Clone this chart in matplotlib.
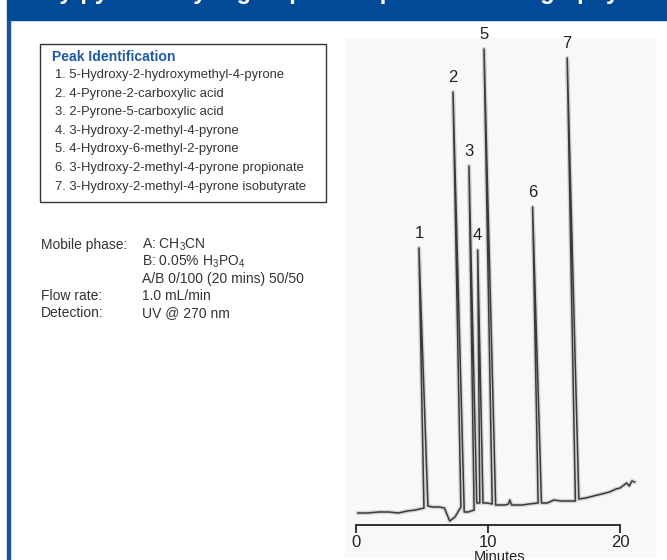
import matplotlib.pyplot as plt
from matplotlib.patches import Rectangle

plt.rcParams['font.family'] = ['Liberation Sans', 'DejaVu Sans']
plt.rcParams['mathtext.default'] = 'regular'

W, H = 667, 560

# chromatogram trace (minutes, detector signal)
trace_t = [0.15, 0.9, 1.7, 2.5, 3.2, 3.9, 4.5, 5.15, 4.77, 5.45,
           5.8, 6.3, 6.7, 7.1, 7.5, 7.95, 7.35, 8.2, 8.5, 8.95,
           8.56, 9.15, 9.38, 9.22, 9.62, 9.9, 10.32, 9.70, 10.58, 10.9,
           11.3, 11.55, 11.65, 11.8, 12.1, 12.6, 13.1, 13.8, 13.38, 14.05,
           14.5, 15.0, 15.5, 16.0, 16.62, 16.0, 16.88, 17.4, 18.0, 18.6,
           19.2, 19.7, 20.0, 20.3, 20.5, 20.7, 20.9, 21.1]
trace_s = [12, 12, 13, 13, 12, 14, 15, 17, 277, 19,
           18, 18, 17, 4, 8, 18, 433, 13, 13, 15,
           359, 22, 22, 275, 22, 22, 21, 476, 20, 20,
           20, 21, 25, 20, 20, 20, 21, 22, 318, 22,
           22, 25, 24, 24, 24, 467, 26, 27, 29, 31,
           33, 36, 37, 40, 42, 39, 44, 43]

# peak apex positions used for the number labels
peak_t = [4.77, 7.35, 8.56, 9.22, 9.70, 13.38, 16.0]
peak_s = [277, 433, 359, 275, 476, 318, 467]
peak_lbl = ['1', '2', '3', '4', '5', '6', '7']

peak_names = ['5-Hydroxy-2-hydroxymethyl-4-pyrone',
              '4-Pyrone-2-carboxylic acid',
              '2-Pyrone-5-carboxylic acid',
              '3-Hydroxy-2-methyl-4-pyrone',
              '4-Hydroxy-6-methyl-2-pyrone',
              '3-Hydroxy-2-methyl-4-pyrone propionate',
              '3-Hydroxy-2-methyl-4-pyrone isobutyrate']

cond_keys = ['Mobile phase:', '', '', 'Flow rate:', 'Detection:']
cond_vals = ['A: CH$_3$CN', 'B: 0.05% H$_3$PO$_4$', 'A/B 0/100 (20 mins) 50/50',
             '1.0 mL/min', 'UV @ 270 nm']

x_ticks = [0, 10, 20]

blue = '#004a98'
txt = '#333333'

fig = plt.figure(figsize=(W / 100, H / 100), dpi=100)
fig.patch.set_facecolor('white')


def fx(px):
    return px / W


def fy(py):
    return 1 - py / H


# header band and left stripe
fig.patches.append(Rectangle((fx(7), fy(20)), fx(660), 20 / H, transform=fig.transFigure,
                             color=blue, zorder=-2))
fig.patches.append(Rectangle((fx(7), 0), fx(3), fy(20), transform=fig.transFigure,
                             color='#1a52a0', zorder=-2))
fig.text(0.5, fy(-1), 'Analysis of Hydroxy-pyrones by High-Speed Liquid Chromatography and UV Detection',
         color='white', fontsize=17, fontweight='bold', ha='center', va='baseline')

# light scan area behind the chromatogram
fig.patches.append(Rectangle((fx(345), fy(556)), fx(310), 518 / H, transform=fig.transFigure,
                             color='#f8f8f8', zorder=-2))

# peak identification box
fig.patches.append(Rectangle((fx(40), fy(202)), fx(286), 158 / H, transform=fig.transFigure,
                             facecolor='white', edgecolor='#333333', lw=1.0, zorder=-1))
fig.text(fx(52), fy(57), 'Peak Identification', color='#1f5aa6', fontsize=10.1,
         fontweight='bold', va='center')
for i, name in enumerate(peak_names):
    fig.text(fx(55), fy(75 + i * 18.6), '%d. %s' % (i + 1, name), color=txt,
             fontsize=9.4, va='center')

# run conditions
for i, (k, v) in enumerate(zip(cond_keys, cond_vals)):
    y = fy(245 + i * 17)
    fig.text(fx(41), y, k, color=txt, fontsize=10, va='center')
    fig.text(fx(142), y, v, color=txt, fontsize=10, va='center')

# chromatogram
ax = fig.add_axes([fx(345), fy(525), fx(310), 485 / H])
ax.set_facecolor('none')
ax.plot(trace_t, trace_s, color='#bdbdbd', lw=3.0, alpha=0.6, solid_joinstyle='round')
ax.plot(trace_t, trace_s, color='#3a3a3a', lw=1.1, solid_joinstyle='round')
for t, s, lbl in zip(peak_t, peak_s, peak_lbl):
    ax.annotate(lbl, (t, s), xytext=(0, 5), textcoords='offset points',
                ha='center', va='bottom', fontsize=12, color='#222222')

ax.set_xlim(-0.83, 22.65)
ax.set_ylim(0, 485)
for side in ['left', 'right', 'top']:
    ax.spines[side].set_visible(False)
ax.spines['bottom'].set_bounds(0, 20)
ax.spines['bottom'].set_color('#222222')
ax.spines['bottom'].set_linewidth(1.3)
ax.set_yticks([])
ax.set_xticks(x_ticks)
ax.tick_params(axis='x', direction='out', length=6, width=1.3, color='#222222',
               labelsize=12, labelcolor='#222222', pad=1)
ax.set_xlabel('Minutes', fontsize=10.5, color='#222222', labelpad=0)

fig.savefig('out.png', dpi=100)
